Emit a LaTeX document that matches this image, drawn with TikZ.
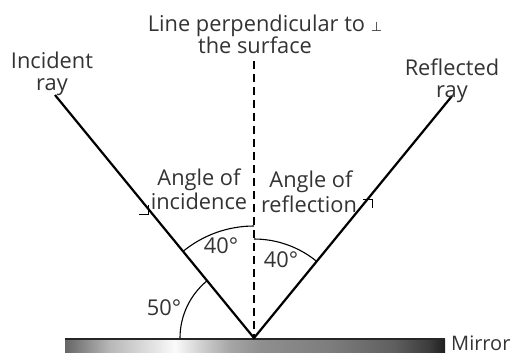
\documentclass[tikz,border=0pt]{standalone}
\usepackage{fontspec}
\setmainfont{Open Sans}
\newfontfamily\symfont{DejaVu Sans}
\definecolor{txt}{HTML}{333333}
\pgfdeclarehorizontalshading{mirrorshade}{100bp}{%
rgb(0bp)=(0.40,0.40,0.40);
rgb(25bp)=(0.40,0.40,0.40);
rgb(30.9bp)=(0.72,0.72,0.72);
rgb(39.5bp)=(0.98,0.98,0.98);
rgb(42.8bp)=(0.82,0.82,0.82);
rgb(46.7bp)=(0.65,0.65,0.65);
rgb(50.7bp)=(0.56,0.56,0.56);
rgb(59.9bp)=(0.49,0.49,0.49);
rgb(68.4bp)=(0.37,0.37,0.37);
rgb(73bp)=(0.23,0.23,0.23);
rgb(75bp)=(0.12,0.12,0.12);
rgb(100bp)=(0.12,0.12,0.12)}
\begin{document}
\begin{tikzpicture}[x=1pt,y=-1pt,
  lbl/.style={text=txt,font=\fontsize{21.8}{24}\selectfont,anchor=base,inner sep=0pt},
  ray/.style={line width=2.2pt,black,line join=miter},
  angarc/.style={line width=1.1pt,black},
  barb/.style={line width=1pt,black}]
\useasboundingbox (0,0) rectangle (516,354);
% mirror
\shade[shading=mirrorshade] (65,339) rectangle (445,352);
\coordinate (ML) at (65,338.5);
\coordinate (MR) at (445,338.5);
\draw[line width=2pt,black!85] (ML) -- (MR);
% geometry
\coordinate (O) at (254,338);
\coordinate (I) at (55,95);
\coordinate (R) at (452,96);
\coordinate (P) at (254,61);
\draw[line width=2.4pt,dash pattern=on 8pt off 5pt] (P) -- (O);
\draw[ray] (I) -- (O) -- (R);
% arcs
\draw[angarc] (O) ++(230.7:112) arc[start angle=230.7,end angle=270,radius=112];
\draw[angarc] (O) ++(270:99) arc[start angle=270,end angle=309.4,radius=99];
\draw[angarc] (O) ++(180:74) arc[start angle=180,end angle=230.7,radius=74];
% arrow heads
\coordinate (A1) at (148,214);
\coordinate (A2) at (372,199);
\draw[barb] (148,205) -- (A1) -- (139,214);
\draw[barb] (363,199) -- (A2) -- (372,208);
% labels
\node[lbl] (t1) at (265,31) {Line perpendicular to {\symfont\fontsize{13}{13}\selectfont ⊥}};
\node[lbl] (t2) at (255,53) {the surface};
\node[lbl] (inc1) at (52,68) {Incident};
\node[lbl] (inc2) at (52,90) {ray};
\node[lbl] (ref1) at (452,75) {Reflected};
\node[lbl] (ref2) at (452,97) {ray};
\node[lbl] (ai1) at (199,185) {Angle of};
\node[lbl] (ai2) at (199,209) {incidence};
\node[lbl] (ar1) at (311,187) {Angle of};
\node[lbl] (ar2) at (309,212) {reflection};
\node[lbl] (d1) at (221,253) {40°};
\node[lbl] (d2) at (281,267) {40°};
\node[lbl] (d3) at (164,315) {50°};
\node[lbl,font=\fontsize{20}{22}\selectfont,anchor=base west] (mir) at (451,350.5) {Mirror};
\end{tikzpicture}
\end{document}
